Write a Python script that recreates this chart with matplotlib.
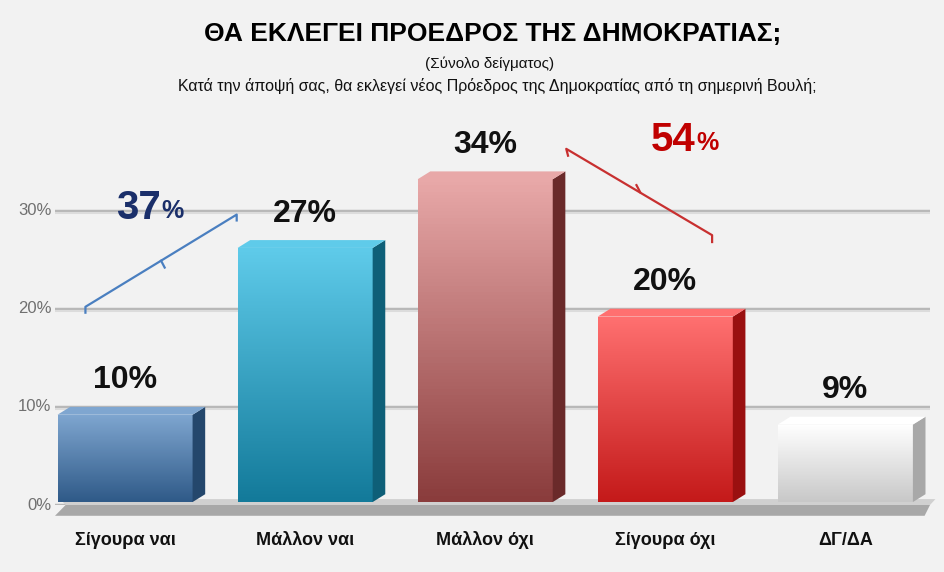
import matplotlib
matplotlib.use("Agg")
import matplotlib.pyplot as plt
import numpy as np
from matplotlib.patches import Polygon
from matplotlib.colors import LinearSegmentedColormap

categories = ["Σίγουρα ναι", "Μάλλον ναι", "Μάλλον όχι", "Σίγουρα όχι", "ΔΓ/ΔΑ"]
values = [10, 27, 34, 20, 9]
labels = ["10%", "27%", "34%", "20%", "9%"]
top_colors = ["#7fa6d0", "#5fcbea", "#e8a8a8", "#ff7070", "#ffffff"]
bot_colors = ["#2f5a88", "#137a9a", "#8a3c3c", "#c41a1a", "#c8c8c8"]
side_colors = ["#24476c", "#0e5f78", "#6a2a2a", "#9a1010", "#a8a8a8"]
yticks = [0, 10, 20, 30]
ytick_labels = ["0%", "10%", "20%", "30%"]
group_yes = 37
group_no = 54

plt.rcParams['font.family'] = ['Liberation Sans', 'DejaVu Sans']
fig = plt.figure(figsize=(9.45, 5.72), dpi=100)
fig.patch.set_facecolor("#f2f2f2")
ax = fig.add_axes([55/945, 67/572, 875/945, 365/572])
ax.set_facecolor("none")
ax.set_xlim(-0.389, 4.47)
ax.set_ylim(0, 37.2)
for s in ax.spines.values():
    s.set_visible(False)
ax.set_xticks([]); ax.set_yticks([])

for t, tl in zip(yticks, ytick_labels):
    ax.axhline(t, color="#b8b8b8", lw=2.5, zorder=1)
    ax.axhline(t - 0.25, color="#dcdcdc", lw=1.5, zorder=1)
    ax.text(-0.41, t, tl, ha="right", va="center", fontsize=12, color="#707070", clip_on=False)

# floor
ax.add_patch(Polygon([[-0.33, 0], [4.47, 0], [4.44, -1.1], [-0.389, -1.1]], closed=True,
                     facecolor="#a8a8a8", edgecolor="none", zorder=2, clip_on=False))
ax.add_patch(Polygon([[-0.36, 0.6], [4.5, 0.6], [4.47, 0], [-0.33, 0]], closed=True,
                     facecolor="#d0d0d0", edgecolor="none", zorder=2, clip_on=False))

w = 0.75
dx = 0.07
dy = 0.8
for i, v in enumerate(values):
    x0 = i - w/2
    h = v - dy
    cmap = LinearSegmentedColormap.from_list("g", [bot_colors[i], top_colors[i]])
    im = ax.imshow(np.linspace(0, 1, 100).reshape(-1, 1), extent=[x0, x0+w, 0.3, h],
                   origin="lower", aspect="auto", cmap=cmap, zorder=3)
    rect = Polygon([[x0, 0.3], [x0+w, 0.3], [x0+w, h], [x0, h]], closed=True,
                   facecolor="none", edgecolor="none", zorder=3)
    ax.add_patch(rect)
    im.set_clip_path(rect)
    ax.add_patch(Polygon([[x0+w, 0.3], [x0+w+dx, 0.3+dy], [x0+w+dx, v], [x0+w, h]],
                         closed=True, facecolor=side_colors[i], edgecolor="none", zorder=3))
    ax.add_patch(Polygon([[x0, h], [x0+w, h], [x0+w+dx, v], [x0+dx, v]],
                         closed=True, facecolor=top_colors[i], edgecolor="none", zorder=3))
    ax.text(i, v + 2.7, labels[i], ha="center", va="center", fontsize=23,
            fontweight="bold", color="#111111", zorder=5)
    ax.text(i, -3.6, categories[i], ha="center", va="center", fontsize=13,
            fontweight="bold", color="#111111", clip_on=False)

ax.plot([-0.22, -0.22, 0.62, 0.62], [19.6, 20.2, 29.6, 29.0], color="#4a7fc0", lw=1.6, zorder=4)
ax.plot([0.2, 0.22], [24.9, 24.2], color="#4a7fc0", lw=1.6, zorder=4)
ax.plot([2.46, 2.45, 3.26, 3.26], [35.6, 36.3, 27.5, 26.8], color="#c83030", lw=1.6, zorder=4)
ax.plot([2.86, 2.84], [31.9, 32.6], color="#c83030", lw=1.6, zorder=4)
ax.text(0.2, 30.3, f"{group_yes}", ha="right", va="center", fontsize=29, fontweight="bold", color="#1a2f6a")
ax.text(0.2, 30.0, "%", ha="left", va="center", fontsize=18, fontweight="bold", color="#1a2f6a")
ax.text(3.17, 37.2, f"{group_no}", ha="right", va="center", fontsize=29, fontweight="bold", color="#c00000", clip_on=False)
ax.text(3.17, 36.9, "%", ha="left", va="center", fontsize=18, fontweight="bold", color="#c00000", clip_on=False)

fig.text(493/945, 1-34/572, "ΘΑ ΕΚΛΕΓΕΙ ΠΡΟΕΔΡΟΣ ΤΗΣ ΔΗΜΟΚΡΑΤΙΑΣ;", ha="center", va="center",
         fontsize=19, fontweight="bold", color="#000000")
fig.text(490/945, 1-64/572, "(Σύνολο δείγματος)", ha="center", va="center", fontsize=11, color="#111111")
fig.text(497/945, 1-86/572, "Κατά την άποψή σας, θα εκλεγεί νέος Πρόεδρος της Δημοκρατίας από τη σημερινή Βουλή;",
         ha="center", va="center", fontsize=11.5, color="#111111")
fig.savefig("out.png", dpi=100, facecolor=fig.get_facecolor())
